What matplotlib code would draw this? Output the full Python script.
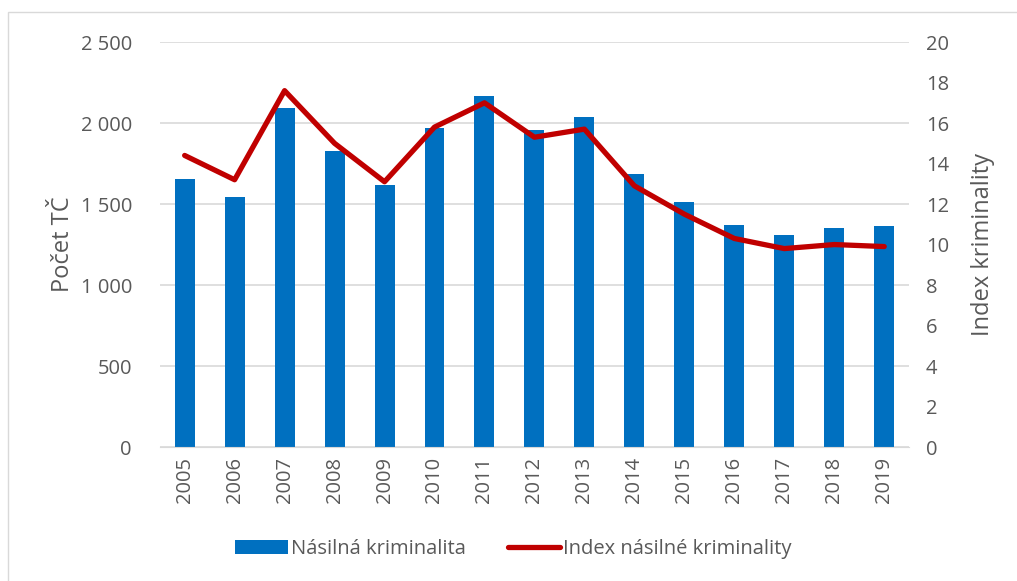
import numpy as np
import matplotlib.pyplot as plt
from matplotlib.patches import Rectangle

# data
years = ['2005', '2006', '2007', '2008', '2009', '2010', '2011', '2012',
         '2013', '2014', '2015', '2016', '2017', '2018', '2019']
counts = [1655, 1545, 2090, 1830, 1620, 1970, 2165, 1960,
          2035, 1685, 1510, 1370, 1310, 1355, 1365]
index_values = [14.4, 13.2, 17.6, 15.0, 13.1, 15.8, 17.0, 15.3,
                15.7, 12.9, 11.5, 10.3, 9.8, 10.0, 9.9]

plt.rcParams['font.family'] = ['Open Sans', 'DejaVu Sans']
grey = '#595959'

fig = plt.figure(figsize=(10.17, 5.81), dpi=100)
ax = fig.add_axes([0.157, 0.2306, 0.737, 0.697])
ax2 = ax.twinx()

x = np.arange(len(years))
bars = ax.bar(x, counts, width=0.4, color='#0070C0', zorder=2,
              label='Násilná kriminalita')
line, = ax2.plot(x, index_values, color='#C00000', linewidth=3.8,
                 solid_capstyle='round', solid_joinstyle='round',
                 label='Index násilné kriminality')

ax.set_xlim(-0.5, len(years) - 0.5)
ax.set_ylim(0, 2500)
ax2.set_ylim(0, 20)
ax.set_yticks(np.arange(0, 2501, 500))
ax.set_yticklabels(['{:,}'.format(v).replace(',', ' ') for v in range(0, 2501, 500)])
ax2.set_yticks(np.arange(0, 21, 2))
ax.set_xticks(x)
ax.set_xticklabels(years, rotation=90)

ax.grid(axis='y', color='#d9d9d9', linewidth=1.2, zorder=0)
ax.set_axisbelow(True)
for a in (ax, ax2):
    for s in a.spines.values():
        s.set_visible(False)
    a.tick_params(length=0, colors=grey, labelsize=14.5)
ax.spines['bottom'].set_visible(True)
ax.spines['bottom'].set_color('#d9d9d9')
ax.tick_params(axis='y', pad=20)
ax2.tick_params(axis='y', pad=12)
ax.tick_params(axis='x', pad=7)

ax.set_ylabel('Počet TČ', color=grey, fontsize=17, labelpad=4)
ax2.set_ylabel('Index kriminality', color=grey, fontsize=17, labelpad=16)

fig.legend(handles=[bars, line], loc='center', bbox_to_anchor=(0.505, 0.055),
           ncol=2, frameon=False, fontsize=14.5, labelcolor=grey,
           handlelength=2.6, columnspacing=2.1, handletextpad=0.15)

# light chart border
fig.add_artist(Rectangle((0.008, -0.05), 1.1, 1.03, transform=fig.transFigure,
                         fill=False, edgecolor='#d9d9d9', linewidth=1))

fig.savefig('out.png', dpi=100)
